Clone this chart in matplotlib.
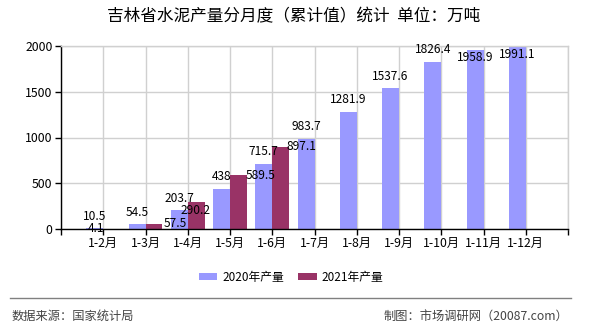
import numpy as np
import matplotlib.pyplot as plt
from matplotlib.lines import Line2D

plt.rcParams['font.family'] = ['Noto Sans CJK SC', 'DejaVu Sans']

# data
months = ['1-2月', '1-3月', '1-4月', '1-5月', '1-6月', '1-7月',
          '1-8月', '1-9月', '1-10月', '1-11月', '1-12月']
prod_2020 = [10.5, 54.5, 203.7, 438, 715.7, 983.7, 1281.9, 1537.6, 1826.4, 1958.9, 1991.1]
prod_2021 = [4.1, 57.5, 290.2, 589.5, 897.1]

# label offsets in pixels (dx, dy) relative to bar top centre
off_2020 = [(0, 12)] * 9 + [(0, -8), (0, -8)]
off_2021 = [(-16, 0), (21, 0), (-1, -8), (22, 0), (21, 0)]

blue = '#9999FF'
red = '#993366'

fig = plt.figure(figsize=(5.9, 3.3), dpi=100)
ax = fig.add_axes([61 / 590, 1 - 229 / 330, (568 - 61) / 590, (229 - 46) / 330])

x = np.arange(len(months))
w = 0.4
ax.bar(x - w / 2, prod_2020, width=w, color=blue, label='2020年产量', zorder=2)
ax.bar(np.arange(len(prod_2021)) + w / 2, prod_2021, width=w, color=red, label='2021年产量', zorder=2)

for i, v in enumerate(prod_2020):
    ax.annotate(f'{v:g}', (x[i] - w / 2, v), xytext=off_2020[i], textcoords='offset pixels',
                ha='center', va='center', fontsize=8.6, color='black', zorder=3)
for i, v in enumerate(prod_2021):
    ax.annotate(f'{v:g}', (i + w / 2, v), xytext=off_2021[i], textcoords='offset pixels',
                ha='center', va='center', fontsize=8.6, color='black', zorder=3)

ax.set_xlim(-1, 11)
ax.set_ylim(0, 2000)
ax.set_xticks(np.arange(-1, 12))
ax.set_xticklabels([''] + months + [''])
ax.set_yticks([0, 500, 1000, 1500, 2000])
ax.tick_params(axis='both', labelsize=8.8, length=4, width=1, color='black', pad=2)
ax.grid(True, color='#d0d0d0', linewidth=1, zorder=0)
ax.set_axisbelow(True)
for s in ['top', 'right']:
    ax.spines[s].set_color('#d0d0d0')
    ax.spines[s].set_linewidth(1)
for s in ['left', 'bottom']:
    ax.spines[s].set_color('black')
    ax.spines[s].set_linewidth(1)

fig.text(294 / 590, 1 - 17 / 330, '吉林省水泥产量分月度（累计值）统计  单位：万吨',
         ha='center', va='center', fontsize=12)

fig.legend(loc='center', bbox_to_anchor=(291 / 590, 1 - 277 / 330), ncol=2, frameon=False,
           fontsize=8.5, handlelength=1.6, handleheight=0.6, columnspacing=1.2, handletextpad=0.4)

fig.add_artist(Line2D([10 / 590, 571 / 590], [1 - 298 / 330] * 2, color='#808080', linewidth=1))
fig.text(12 / 590, 1 - 316 / 330, '数据来源：国家统计局', ha='left', va='center',
         fontsize=8.8, color='#444444')
fig.text(568 / 590, 1 - 316 / 330, '制图：市场调研网（20087.com）', ha='right', va='center',
         fontsize=8.8, color='#444444')

fig.savefig('out.png', dpi=100)
